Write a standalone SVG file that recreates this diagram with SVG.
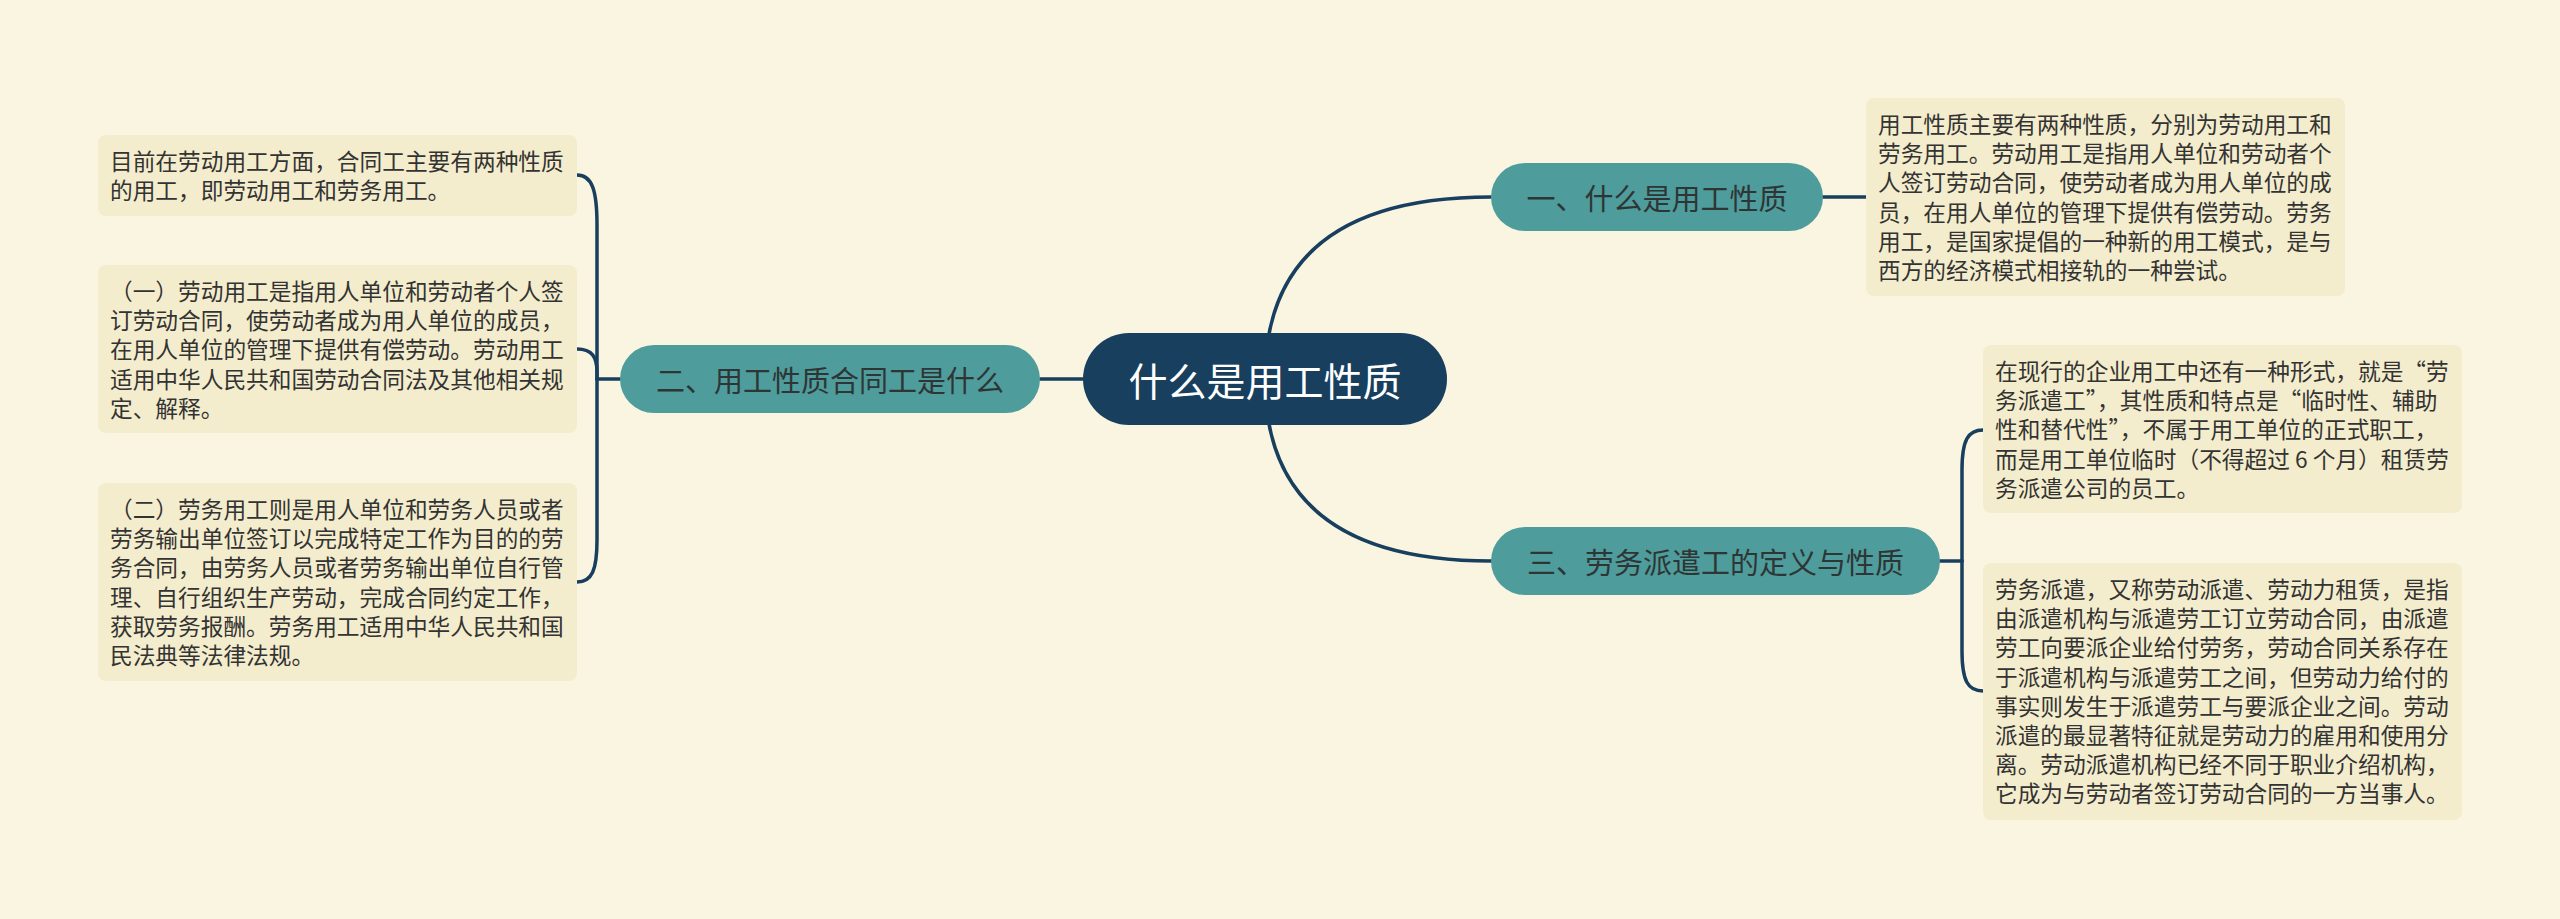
<svg xmlns="http://www.w3.org/2000/svg" width="2560" height="919" viewBox="0 0 2560 919">
<style>
.bg{fill:#faf5e0}
.box{fill:#f3edcd}
.bt{font-family:'Noto Sans CJK SC','Noto Sans CJK TC',sans-serif;font-size:22.7px;fill:#333333}
.topic{fill:#4e9c9c}
.tt{font-family:'Noto Sans CJK SC','Noto Sans CJK TC',sans-serif;font-size:29px;fill:#2e3535;text-anchor:middle;dominant-baseline:central}
.root{fill:#183f5e}
.rt{font-family:'Noto Sans CJK SC','Noto Sans CJK TC',sans-serif;font-size:39px;fill:#ffffff;text-anchor:middle;dominant-baseline:central}
.ln{fill:none;stroke:#183f5e;stroke-width:3.5;stroke-linecap:round}
</style>
<rect class="bg" x="0" y="0" width="2560" height="919"/>
<g id="connectors">
<path class="ln" d="M1265 379 Q1265 197 1491 197"/>
<path class="ln" d="M1265 379 Q1265 561 1491 561"/>
<path class="ln" d="M1040 379 L1083 379"/>
<path class="ln" d="M1823 197 L1866 197"/>
<path class="ln" d="M1940 561 L1962 561"/>
<path class="ln" d="M1983 430 C1968 430 1962 440 1962 470 L1962 561"/>
<path class="ln" d="M1983 691 C1968 691 1962 681 1962 651 L1962 561"/>
<path class="ln" d="M620 379 L597 379"/>
<path class="ln" d="M577 175 C592 175 597 190 597 225 L597 379"/>
<path class="ln" d="M577 349 C592 349 597 357 597 372 L597 379"/>
<path class="ln" d="M577 582 C592 582 597 570 597 540 L597 379"/>
</g>
<g id="root">
<rect class="root" x="1083" y="333" width="364" height="92" rx="46"/>
<text class="rt" x="1265" y="379">什么是用工性质</text>
</g>
<g id="topic1">
<rect class="topic" x="1491" y="163" width="332" height="68" rx="34"/>
<text class="tt" x="1657" y="197">一、什么是用工性质</text>
</g>
<g id="topic2">
<rect class="topic" x="620" y="345" width="420" height="68" rx="34"/>
<text class="tt" x="830" y="379">二、用工性质合同工是什么</text>
</g>
<g id="topic3">
<rect class="topic" x="1491" y="527" width="449" height="68" rx="34"/>
<text class="tt" x="1715.5" y="561">三、劳务派遣工的定义与性质</text>
</g>
<g id="note1">
<rect class="box" x="1866" y="98" width="479" height="198" rx="8"/>
<text class="bt">
<tspan x="1878" y="133">用工性质主要有两种性质，分别为劳动用工和</tspan>
<tspan x="1878" y="162.2">劳务用工。劳动用工是指用人单位和劳动者个</tspan>
<tspan x="1878" y="191.4">人签订劳动合同，使劳动者成为用人单位的成</tspan>
<tspan x="1878" y="220.6">员，在用人单位的管理下提供有偿劳动。劳务</tspan>
<tspan x="1878" y="249.8">用工，是国家提倡的一种新的用工模式，是与</tspan>
<tspan x="1878" y="279">西方的经济模式相接轨的一种尝试。</tspan>
</text>
</g>
<g id="note2a">
<rect class="box" x="98" y="135" width="479" height="81" rx="8"/>
<text class="bt">
<tspan x="110" y="170">目前在劳动用工方面，合同工主要有两种性质</tspan>
<tspan x="110" y="199.2">的用工，即劳动用工和劳务用工。</tspan>
</text>
</g>
<g id="note2b">
<rect class="box" x="98" y="265" width="479" height="168" rx="8"/>
<text class="bt">
<tspan x="110" y="300">（一）劳动用工是指用人单位和劳动者个人签</tspan>
<tspan x="110" y="329.2">订劳动合同，使劳动者成为用人单位的成员，</tspan>
<tspan x="110" y="358.4">在用人单位的管理下提供有偿劳动。劳动用工</tspan>
<tspan x="110" y="387.6">适用中华人民共和国劳动合同法及其他相关规</tspan>
<tspan x="110" y="416.8">定、解释。</tspan>
</text>
</g>
<g id="note2c">
<rect class="box" x="98" y="483" width="479" height="198" rx="8"/>
<text class="bt">
<tspan x="110" y="518">（二）劳务用工则是用人单位和劳务人员或者</tspan>
<tspan x="110" y="547.2">劳务输出单位签订以完成特定工作为目的的劳</tspan>
<tspan x="110" y="576.4">务合同，由劳务人员或者劳务输出单位自行管</tspan>
<tspan x="110" y="605.6">理、自行组织生产劳动，完成合同约定工作，</tspan>
<tspan x="110" y="634.8">获取劳务报酬。劳务用工适用中华人民共和国</tspan>
<tspan x="110" y="664">民法典等法律法规。</tspan>
</text>
</g>
<g id="note3a">
<rect class="box" x="1983" y="345" width="479" height="168" rx="8"/>
<text class="bt">
<tspan x="1995" y="380">在现行的企业用工中还有一种形式，就是“劳</tspan>
<tspan x="1995" y="409.2">务派遣工”，其性质和特点是“临时性、辅助</tspan>
<tspan x="1995" y="438.4">性和替代性”，不属于用工单位的正式职工，</tspan>
<tspan x="1995" y="467.6">而是用工单位临时（不得超过 6 个月）租赁劳</tspan>
<tspan x="1995" y="496.8">务派遣公司的员工。</tspan>
</text>
</g>
<g id="note3b">
<rect class="box" x="1983" y="563" width="479" height="257" rx="8"/>
<text class="bt">
<tspan x="1995" y="598">劳务派遣，又称劳动派遣、劳动力租赁，是指</tspan>
<tspan x="1995" y="627.2">由派遣机构与派遣劳工订立劳动合同，由派遣</tspan>
<tspan x="1995" y="656.4">劳工向要派企业给付劳务，劳动合同关系存在</tspan>
<tspan x="1995" y="685.6">于派遣机构与派遣劳工之间，但劳动力给付的</tspan>
<tspan x="1995" y="714.8">事实则发生于派遣劳工与要派企业之间。劳动</tspan>
<tspan x="1995" y="744">派遣的最显著特征就是劳动力的雇用和使用分</tspan>
<tspan x="1995" y="773.2">离。劳动派遣机构已经不同于职业介绍机构，</tspan>
<tspan x="1995" y="802.4">它成为与劳动者签订劳动合同的一方当事人。</tspan>
</text>
</g>
</svg>
